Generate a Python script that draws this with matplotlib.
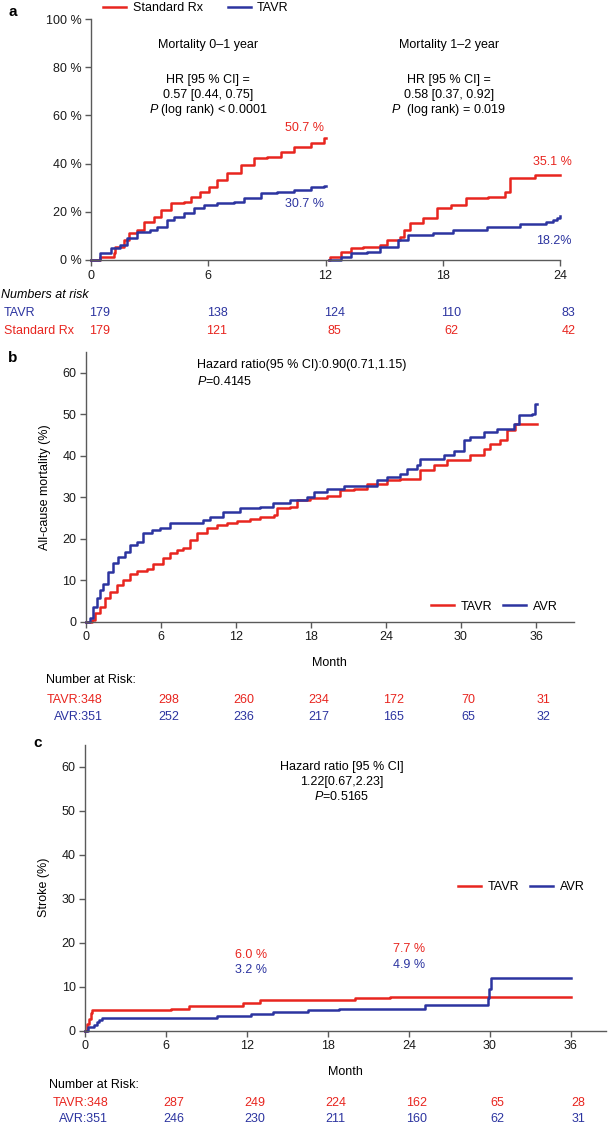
import matplotlib
matplotlib.use('Agg')
import numpy as np
import matplotlib.pyplot as plt
from matplotlib.transforms import blended_transform_factory

plt.rcParams['font.family'] = ['Liberation Sans', 'DejaVu Sans']
plt.rcParams['font.size'] = 9
plt.rcParams['mathtext.fontset'] = 'custom'
plt.rcParams['mathtext.rm'] = 'Liberation Sans'
plt.rcParams['mathtext.it'] = 'Liberation Sans:italic'

RED = '#e8251f'
BLUE = '#2c34a0'
AXC = '#5a5a5a'
FS = 9
W, H = 608, 1127

# ---- panel a: mortality 0-1 year and 1-2 year (month, %)
a1_std = [(0, 0), (0.48, 1.4), (1.16, 2.8), (1.25, 5.5), (1.67, 8.3), (1.93, 11.0), (2.36, 12.4),
          (2.7, 15.9), (3.2, 18.0), (3.56, 20.7), (4.07, 23.5), (4.75, 24.2), (5.1, 26.3),
          (5.6, 28.4), (6.03, 30.4), (6.46, 33.2), (6.97, 36.0), (7.66, 39.4), (8.34, 42.2),
          (9.0, 42.9), (9.7, 45.0), (10.4, 47.0), (11.25, 48.4), (11.9, 50.5), (12.0, 50.7)]
a1_tavr = [(0, 0), (0.48, 2.8), (1.0, 4.8), (1.5, 6.2), (1.85, 9.0), (2.36, 11.8), (3.04, 12.4),
           (3.4, 13.8), (3.9, 16.6), (4.24, 18.0), (4.75, 19.4), (5.26, 21.4), (5.78, 22.8),
           (6.46, 23.5), (7.3, 24.2), (7.83, 25.6), (8.68, 27.7), (9.5, 28.4), (10.4, 29.0),
           (11.25, 30.4), (11.9, 30.7), (12.0, 30.7)]
a2_std = [(12.17, 0), (12.25, 1.4), (12.77, 3.5), (13.28, 4.8), (13.9, 5.5), (14.8, 6.2),
          (15.15, 8.3), (15.8, 9.7), (16.0, 12.4), (16.34, 15.2), (17.0, 17.3), (17.7, 21.4),
          (18.4, 22.8), (19.2, 25.6), (20.3, 26.3), (21.2, 28.4), (21.45, 33.9), (22.7, 35.1),
          (24.0, 35.1)]
a2_tavr = [(12.17, 0), (12.77, 1.4), (13.28, 2.8), (14.1, 3.5), (14.8, 5.5), (15.7, 8.3),
           (16.2, 10.4), (17.5, 11.0), (18.55, 12.4), (20.25, 13.8), (21.95, 14.9), (23.3, 15.9),
           (23.66, 16.6), (23.85, 17.5), (24.0, 18.2)]
a_ticks = [0, 6, 12, 18, 24]
a_risk_tavr = [179, 138, 124, 110, 83]
a_risk_std = [179, 121, 85, 62, 42]

# ---- panel b: all-cause mortality
b_tavr = [(0, 0), (0.45, 0.4), (0.72, 2.0), (1.12, 3.6), (1.52, 5.6), (1.92, 7.2), (2.45, 8.8),
          (2.99, 10.0), (3.52, 11.6), (4.05, 12.3), (4.85, 12.6), (5.39, 13.9), (6.05, 14.0),
          (6.19, 15.3), (6.72, 16.5), (7.25, 17.3), (7.79, 17.7), (8.3, 19.7), (8.85, 21.3),
          (9.65, 22.5), (10.45, 23.3), (11.25, 23.7), (12.05, 24.3), (13.1, 24.7), (13.9, 25.3),
          (15.0, 25.7), (15.25, 27.3), (16.3, 27.7), (16.85, 29.3), (17.9, 29.9), (19.3, 30.4),
          (20.3, 31.7), (21.4, 32.1), (22.5, 33.3), (24.1, 34.1), (25.1, 34.5), (26.7, 36.5),
          (27.8, 37.7), (28.85, 38.9), (30.7, 40.1), (31.8, 41.7), (32.3, 42.9), (33.1, 43.7),
          (33.65, 46.1), (34.3, 47.7), (36.05, 47.7)]
b_avr = [(0, 0), (0.32, 0.8), (0.59, 3.6), (0.85, 5.6), (1.12, 7.6), (1.39, 9.2), (1.79, 12.0),
         (2.19, 14.1), (2.59, 15.7), (3.12, 16.9), (3.52, 18.5), (4.05, 19.3), (4.59, 21.3),
         (5.25, 22.1), (5.92, 22.7), (6.72, 23.7), (8.05, 23.9), (9.39, 24.5), (9.92, 25.3),
         (10.99, 26.5), (12.32, 27.3), (13.92, 27.7), (14.99, 28.5), (16.3, 29.3), (17.65, 30.1),
         (18.2, 31.3), (19.3, 32.1), (20.6, 32.7), (23.3, 34.1), (24.1, 34.9), (25.1, 35.7),
         (25.7, 36.9), (26.5, 37.7), (26.7, 39.3), (28.6, 40.1), (29.4, 41.1), (30.2, 43.7),
         (30.7, 44.6), (31.8, 45.7), (32.85, 46.5), (34.2, 47.7), (34.6, 49.7), (35.7, 50.1),
         (35.9, 52.5), (36.05, 52.5)]
bc_ticks = [0, 6, 12, 18, 24, 30, 36]
b_risk_tavr = [298, 260, 234, 172, 70, 31]
b_risk_avr = [252, 236, 217, 165, 65, 32]

# ---- panel c: stroke
c_tavr = [(0, 0), (0.15, 1.5), (0.25, 2.7), (0.4, 4.0), (0.5, 4.6), (6.35, 5.0), (7.7, 5.6),
          (11.7, 6.2), (12.96, 6.9), (20.0, 7.3), (22.6, 7.7), (36.0, 7.7)]
c_avr = [(0, 0), (0.17, 0.8), (0.62, 1.2), (0.86, 1.9), (1.0, 2.4), (1.23, 2.8), (9.8, 3.3),
         (12.25, 3.7), (13.9, 4.2), (16.5, 4.6), (18.8, 5.0), (25.2, 5.9), (29.85, 7.3),
         (29.95, 9.5), (30.1, 11.9), (36.0, 11.9)]
c_risk_tavr = [287, 249, 224, 162, 65, 28]
c_risk_avr = [246, 230, 211, 160, 62, 31]


def fy(py):
    return 1 - py / H


def add_ax(left, right, top, bottom):
    return fig.add_axes([left / W, 1 - bottom / H, (right - left) / W, (bottom - top) / H])


def style(ax):
    for s in ['top', 'right']:
        ax.spines[s].set_visible(False)
    for s in ['left', 'bottom']:
        ax.spines[s].set_color(AXC)
        ax.spines[s].set_linewidth(1.0)
    ax.tick_params(direction='out', length=4, width=1, color=AXC, labelsize=FS, pad=3,
                   labelcolor='#1a1a1a')


def km(ax, pts, color, label=None):
    t, v = np.array(pts).T
    ax.step(t, v, where='post', color=color, lw=1.8, label=label, clip_on=False)


def risk_row(ax, ticks, counts, py, color, dx):
    tr = blended_transform_factory(ax.transData, fig.transFigure)
    for t, n in zip(ticks, counts):
        ax.text(t + dx, fy(py), str(n), transform=tr, ha='center', va='center',
                color=color, fontsize=FS, clip_on=False)


def legend(ax, x, y, colsp):
    ax.legend(loc='center left', bbox_to_anchor=(x, y), ncol=2, frameon=False,
              borderpad=0, handlelength=1.85, handletextpad=0.5, columnspacing=colsp, fontsize=FS)


fig = plt.figure(figsize=(W / 100, H / 100), dpi=100)

# ================= panel a
ax = add_ax(91, 560, 19, 260)
style(ax)
km(ax, a1_std, RED, 'Standard Rx')
km(ax, a1_tavr, BLUE, 'TAVR')
km(ax, a2_std, RED)
km(ax, a2_tavr, BLUE)
ax.set_xlim(0, 24)
ax.set_ylim(0, 100)
ax.set_xticks(a_ticks)
ax.set_yticks([0, 20, 40, 60, 80, 100])
ax.set_yticklabels(['0 %', '20 %', '40 %', '60 %', '80 %', '100 %'])
legend(ax, 0.013, 1.046, 2.0)
ax.text(6, 89.2, 'Mortality 0\u20131 year', ha='center', va='center')
ax.text(6, 74.7, 'HR [95 % CI] =', ha='center', va='center')
ax.text(6, 68.5, '0.57 [0.44, 0.75]', ha='center', va='center')
ax.text(6, 62.2, r'$\it{P}$ (log rank) < 0.0001', ha='center', va='center')
ax.text(18.3, 89.2, 'Mortality 1\u20132 year', ha='center', va='center')
ax.text(18.3, 74.7, 'HR [95 % CI] =', ha='center', va='center')
ax.text(18.3, 68.5, '0.58 [0.37, 0.92]', ha='center', va='center')
ax.text(18.3, 62.2, r'$\it{P}$  (log rank) = 0.019', ha='center', va='center')
ax.text(11.9, 54.8, '50.7 %', ha='right', va='center', color=RED)
ax.text(11.9, 23.2, '30.7 %', ha='right', va='center', color=BLUE)
ax.text(24.6, 40.7, '35.1 %', ha='right', va='center', color=RED, clip_on=False)
ax.text(24.6, 7.9, '18.2%', ha='right', va='center', color=BLUE, clip_on=False)
fig.text(13 / W, fy(12), 'a', fontsize=11, fontweight='bold', ha='center', va='center')
fig.text(1 / W, fy(295), 'Numbers at risk', style='italic', va='center')
fig.text(4 / W, fy(313), 'TAVR', color=BLUE, va='center')
fig.text(4 / W, fy(331), 'Standard Rx', color=RED, va='center')
risk_row(ax, a_ticks, a_risk_tavr, 313, BLUE, 0.45)
risk_row(ax, a_ticks, a_risk_std, 331, RED, 0.45)

# ================= panel b
ax = add_ax(86, 573.5, 352, 621.7)
style(ax)
km(ax, b_tavr, RED, 'TAVR')
km(ax, b_avr, BLUE, 'AVR')
ax.set_xlim(0, 39)
ax.set_ylim(0, 65)
ax.set_xticks(bc_ticks)
ax.set_yticks([0, 10, 20, 30, 40, 50, 60])
ax.set_ylabel('All-cause mortality (%)', fontsize=FS, labelpad=8)
ax.set_xlabel('Month', fontsize=FS, labelpad=10)
ax.text(8.9, 61.9, 'Hazard ratio(95 % CI):0.90(0.71,1.15)', ha='left', va='center')
ax.text(8.9, 58.0, r'$\it{P}$=0.4145', ha='left', va='center')
legend(ax, 0.695, 0.055, 0.9)
fig.text(13 / W, fy(358), 'b', fontsize=11, fontweight='bold', ha='center', va='center')
fig.text(46 / W, fy(680), 'Number at Risk:', va='center')
fig.text(47 / W, fy(700), 'TAVR:348', color=RED, va='center')
fig.text(54 / W, fy(717), 'AVR:351', color=BLUE, va='center')
risk_row(ax, bc_ticks[1:], b_risk_tavr, 700, RED, 0.6)
risk_row(ax, bc_ticks[1:], b_risk_avr, 717, BLUE, 0.6)

# ================= panel c
ax = add_ax(85.3, 606, 744.5, 1030.5)
style(ax)
km(ax, c_tavr, RED, 'TAVR')
km(ax, c_avr, BLUE, 'AVR')
ax.set_xlim(0, 38.6)
ax.set_ylim(0, 65)
ax.set_xticks(bc_ticks)
ax.set_yticks([0, 10, 20, 30, 40, 50, 60])
ax.set_ylabel('Stroke (%)', fontsize=FS, labelpad=8)
ax.set_xlabel('Month', fontsize=FS, labelpad=10)
ax.text(19.0, 59.9, 'Hazard ratio [95 % CI]', ha='center', va='center')
ax.text(19.0, 56.5, '1.22[0.67,2.23]', ha='center', va='center')
ax.text(19.0, 53.1, r'$\it{P}$=0.5165', ha='center', va='center')
ax.text(12.27, 17.2, '6.0 %', ha='center', va='center', color=RED)
ax.text(12.27, 13.75, '3.2 %', ha='center', va='center', color=BLUE)
ax.text(24.0, 18.5, '7.7 %', ha='center', va='center', color=RED)
ax.text(24.0, 14.9, '4.9 %', ha='center', va='center', color=BLUE)
legend(ax, 0.704, 0.502, 0.9)
fig.text(38 / W, fy(743), 'c', fontsize=11, fontweight='bold', ha='center', va='center')
fig.text(48.6 / W, fy(1085), 'Number at Risk:', va='center')
fig.text(53 / W, fy(1103), 'TAVR:348', color=RED, va='center')
fig.text(59 / W, fy(1119), 'AVR:351', color=BLUE, va='center')
risk_row(ax, bc_ticks[1:], c_risk_tavr, 1103, RED, 0.55)
risk_row(ax, bc_ticks[1:], c_risk_avr, 1119, BLUE, 0.55)

fig.savefig('out.png', dpi=100)
